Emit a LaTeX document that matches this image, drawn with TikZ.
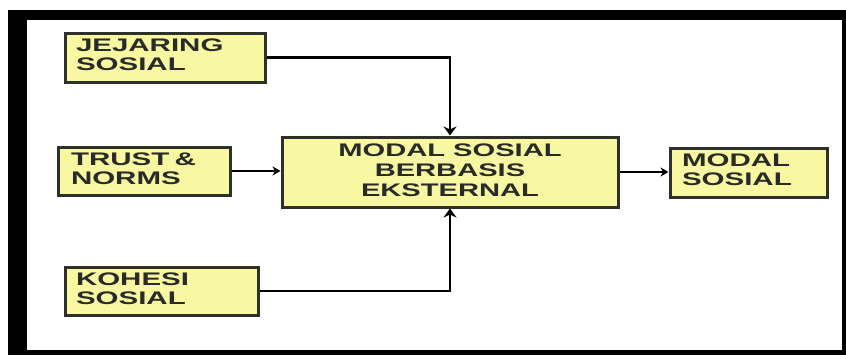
\documentclass[tikz,border=0pt]{standalone}
\usepackage{fontspec}
\setmainfont{Liberation Sans}
\usepackage{graphicx}
\usetikzlibrary{arrows.meta}
\definecolor{boxfill}{HTML}{F8F8A2}
\definecolor{boxline}{HTML}{30302A}
\definecolor{txt}{HTML}{2A2A28}
\newcommand\btxt[1]{\raisebox{-2.7pt}{\scalebox{1.62}[1]{\fontsize{18.2}{19}\selectfont\bfseries\begin{tabular}{@{}l@{}}#1\end{tabular}}}}
\newcommand\ctxt[1]{\raisebox{-2.5pt}{\scalebox{1.6}[1]{\fontsize{18.2}{20}\selectfont\bfseries\begin{tabular}{@{}c@{}}#1\end{tabular}}}}
\begin{document}
\begin{tikzpicture}[x=1pt,y=-1pt,
  ybox/.style={draw=boxline, line width=3pt, fill=boxfill, text=txt, rectangle, inner sep=0pt},
  conn/.style={line width=2.6pt, -{Stealth[length=9pt,width=13pt]}},
  connh/.style={line width=2pt, -{Stealth[length=8pt,width=9pt]}}]
\useasboundingbox (0,0) rectangle (846,356);
\fill[black] (8,10) rectangle (846,355);
\fill[white] (27,20) rectangle (842,350);
\node[ybox, minimum width=200pt, minimum height=49pt, text width=178pt, align=left] (jej) at (165,57.5) {\btxt{JEJARING\\SOSIAL}};
\node[ybox, minimum width=172pt, minimum height=48pt, text width=146pt, align=left] (trust) at (144,171) {\btxt{TRUST \&\\NORMS}};
\node[ybox, minimum width=193pt, minimum height=48pt, text width=171pt, align=left] (koh) at (161.5,291) {\btxt{KOHESI\\SOSIAL}};
\node[ybox, minimum width=336pt, minimum height=70pt] (mid) at (450,172) {\ctxt{MODAL SOSIAL\\BERBASIS\\EKSTERNAL}};
\node[ybox, minimum width=157pt, minimum height=49pt, text width=133pt, align=left] (mod) at (748.5,172.5) {\btxt{MODAL\\SOSIAL}};
\draw[conn] (jej.east) -| (mid.north);
\draw[conn] (koh.east) -| (mid.south);
\draw[connh] (trust.east) -- (trust.east -| mid.west);
\draw[connh] (mid.east) -- (mid.east -| mod.west);
\end{tikzpicture}
\end{document}
